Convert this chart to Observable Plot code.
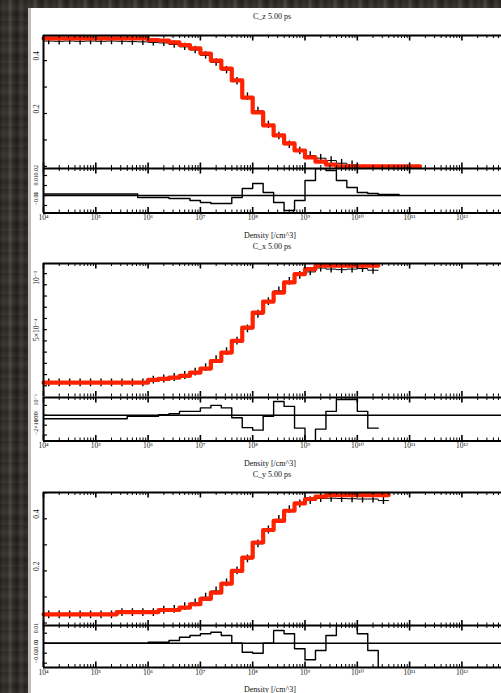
<!DOCTYPE html>
<html>
<head>
<meta charset="utf-8">
<script src="https://cdn.jsdelivr.net/npm/d3@7"></script>
<script src="https://cdn.jsdelivr.net/npm/@observablehq/plot@0.6"></script>
<style>
  html, body { margin: 0; padding: 0; background: #2a2622; }
  #page {
    position: relative; width: 501px; height: 693px; overflow: hidden;
    background:
      repeating-linear-gradient(0deg, rgba(255,255,255,0.04) 0px, rgba(0,0,0,0.08) 7px, rgba(255,255,255,0.05) 13px, rgba(0,0,0,0.06) 21px),
      repeating-linear-gradient(90deg, #26231f 0px, #34302b 4px, #2b2824 7px, #48443e 10px, #2e2b27 13px, #201e1b 17px, #3c3833 21px, #27241f 25px);
  }
  #sheet {
    position: absolute; left: 28px; top: 8px; width: 473px; height: 685px;
    background: #fff; border-left: 3px solid #bdbdbd; box-sizing: border-box;
  }
  .plot { position: absolute; left: 0; }
  .txt {
    position: absolute; font-family: "Liberation Serif", "DejaVu Serif", serif;
    font-size: 8px; color: #111; white-space: nowrap; transform: translate(-50%, -50%);
  }
</style>
</head>
<body>
<div id="page"><div id="sheet"></div></div>
<script>
// ---------- data ----------
const edgeExp = [4.0,4.2,4.4,4.6,4.8,5.0,5.2,5.4,5.6,5.8,6.0,6.2,6.4,6.6,6.8,7.0,7.2,7.4,7.6,7.8,8.0,8.2,8.4,8.6,8.8,9.0,9.2,9.4,9.6,9.8,10.0,10.2,10.4,10.6,10.8,11.0,11.2];
const majorExp = [4,5,6,7,8,9,10,11,12];
const minorMult = [2,3,4,5,6,7,8,9];
const xTickLabels = ["10⁴","10⁵","10⁶","10⁷","10⁸","10⁹","10¹⁰","10¹¹","10¹²"];
const xAxisLabel = "Density [/cm^3]";
const panelTitles = ["C_z 5.00 ps", "C_x 5.00 ps", "C_y 5.00 ps"];

// C_z
const cz_model = [0.484,0.484,0.484,0.484,0.484,0.484,0.484,0.484,0.484,0.484,0.478,0.476,0.469,0.459,0.446,0.427,0.400,0.370,0.325,0.260,0.204,0.155,0.117,0.087,0.060,0.034,0.018,0.007,0,0,0,0,0,0,0,0];
const cz_data = [0.474,0.473,0.474,0.473,0.474,0.473,0.474,0.473,0.472,0.471,0.469,0.467,0.461,0.452,0.440,0.420,0.393,0.364,0.322,0.264,0.210,0.157,0.115,0.082,0.058,0.041,0.031,0.022,0.012,0.006];
const cz_err = 0.014;
const cz_resid = [0.15,0.15,0.15,0.15,0.15,0.15,0.15,0.15,0.15,-0.2,-0.2,-0.2,-0.3,-0.3,-0.5,-0.7,-0.8,-0.8,-0.2,0.7,1.2,0.3,-0.7,-1.5,-0.5,1.5,2.7,2.5,1.5,0.8,0.3,0.2,0.1,0.1];
const cz_yTicks = [0,0.1,0.2,0.3,0.4];
const cz_yLabelValues = [0.2,0.4];
const cz_yLabels = ["0.2","0.4"];
const cz_rTicks = [-1,0,1,2];
const cz_rLabels = ["−0.01","0","0.01","0.02"];

// C_x
const cx_model = [0.128,0.128,0.128,0.128,0.128,0.128,0.128,0.128,0.128,0.128,0.152,0.161,0.172,0.188,0.217,0.253,0.321,0.396,0.500,0.619,0.753,0.851,0.931,1.021,1.096,1.140,1.170,1.170,1.170,1.170,1.170,1.170];
const cx_data = [0.126,0.126,0.126,0.126,0.126,0.126,0.126,0.126,0.126,0.126,0.150,0.160,0.174,0.192,0.222,0.262,0.333,0.404,0.498,0.607,0.738,0.850,0.946,1.031,1.084,1.115,1.150,1.140,1.135,1.140,1.145,1.130];
const cx_err = 0.035;
const cx_resid = [-0.35,-0.35,-0.35,-0.35,-0.35,-0.35,-0.35,-0.35,-0.1,-0.1,-0.1,0.05,0.15,0.4,0.4,0.75,1.0,0.75,-0.25,-1.25,-1.5,-0.1,1.4,0.9,-1.3,-2.6,-1.4,0.4,1.6,1.6,0.4,-1.3];
const cx_yTicks = [0.1,0.2,0.3,0.4,0.5,0.6,0.7,0.8,0.9,1.0,1.1];
const cx_yLabelValues = [0.5,1.0];
const cx_yLabels = ["5×10⁻⁴","10⁻³"];
const cx_rTicks = [-2,-1,0,1];
const cx_rLabels = ["−2×10⁻⁵","−10⁻⁵","0","10⁻⁵"];

// C_y
const cy_model = [0.0335,0.0335,0.0335,0.0335,0.0335,0.0335,0.0335,0.042,0.042,0.042,0.042,0.050,0.050,0.059,0.072,0.093,0.117,0.151,0.200,0.251,0.309,0.357,0.392,0.431,0.459,0.476,0.485,0.491,0.491,0.491,0.491,0.491,0.491];
const cy_data = [0.031,0.031,0.031,0.031,0.031,0.031,0.031,0.040,0.040,0.040,0.040,0.049,0.052,0.063,0.077,0.099,0.123,0.154,0.200,0.246,0.304,0.357,0.398,0.435,0.457,0.470,0.478,0.479,0.478,0.477,0.476,0.476,0.470];
const cy_err = 0.015;
const cy_resid = [0,0,0,0,0,0,0,0,0,0,0.1,0.1,0.27,0.6,0.77,0.94,1.1,0.77,0,-0.9,-1.0,0,1.27,0.94,-0.56,-1.66,-0.73,0.77,1.77,1.77,0.94,-0.73,-2.6];
const cy_yTicks = [0,0.1,0.2,0.3,0.4,0.5];
const cy_yLabelValues = [0.2,0.4];
const cy_yLabels = ["0.2","0.4"];
const cy_rTicks = [-2,-1,0,1];
const cy_rLabels = ["−0.02","−0.01","0","0.01"];

// ---------- layout ----------
const W = 501, ML = 43;
const xDomain = [1e4, Math.pow(10, 12.757)];
const majors = majorExp.map(e => Math.pow(10, e));
const minors = [];
majorExp.forEach(e => minorMult.forEach(m => { const v = m * Math.pow(10, e); if (v < xDomain[1]) minors.push(v); }));

const panels = [
  {title: panelTitles[0], T: 35, M: 168, B: 212.5, yDomain: [-0.008, 0.495], rDomain: [-1.75, 2.7],
   model: cz_model, data: cz_data, err: cz_err, resid: cz_resid, yTicks: cz_yTicks, yLV: cz_yLabelValues, yL: cz_yLabels, rTicks: cz_rTicks, rL: cz_rLabels,
   titleY: 16, labelY: 235},
  {title: panelTitles[1], T: 263, M: 396.5, B: 440, yDomain: [0, 1.19], rDomain: [-2.6, 1.8],
   model: cx_model, data: cx_data, err: cx_err, resid: cx_resid, yTicks: cx_yTicks, yLV: cx_yLabelValues, yL: cx_yLabels, rTicks: cx_rTicks, rL: cx_rLabels,
   titleY: 246, labelY: 463},
  {title: panelTitles[2], T: 491.5, M: 625, B: 667, yDomain: [-0.0115, 0.501], rDomain: [-2.43, 1.77],
   model: cy_model, data: cy_data, err: cy_err, resid: cy_resid, yTicks: cy_yTicks, yLV: cy_yLabelValues, yL: cy_yLabels, rTicks: cy_rTicks, rL: cy_rLabels,
   titleY: 474, labelY: 689}
];

function stepRows(vals) {
  const rows = vals.map((v, i) => ({x: Math.pow(10, edgeExp[i]), y: v}));
  rows.push({x: Math.pow(10, edgeExp[vals.length]), y: vals[vals.length - 1]});
  return rows;
}

const font = "Liberation Serif, DejaVu Serif, serif";
const svgStyle = {background: "transparent", overflow: "visible", fontFamily: font};
const page = document.getElementById("page");

function place(el, top) {
  el.classList.add("plot");
  el.style.top = top + "px";
  page.appendChild(el);
}

function xTickMarks(h, topLen, botLen) {
  const m = [];
  if (topLen) {
    m.push(Plot.ruleX(minors, {insetBottom: h - topLen, stroke: "#000", strokeWidth: 1}));
    m.push(Plot.ruleX(majors, {insetBottom: h - topLen - 2.5, stroke: "#000", strokeWidth: 1.6}));
  }
  if (botLen) {
    m.push(Plot.ruleX(minors, {insetTop: h - botLen, stroke: "#000", strokeWidth: 1}));
    m.push(Plot.ruleX(majors, {insetTop: h - botLen - 2.5, stroke: "#000", strokeWidth: 1.6}));
  }
  return m;
}

panels.forEach(p => {
  const h = p.M - p.T;
  const pts = p.data.map((d, i) => ({x: Math.pow(10, edgeExp[i] + 0.1), lo: d - p.err, hi: d + p.err}));
  const main = Plot.plot({
    width: W, height: h + 6, marginTop: 3, marginBottom: 3, marginLeft: ML, marginRight: 0,
    style: svgStyle,
    x: {type: "log", domain: xDomain, axis: null},
    y: {domain: p.yDomain, axis: null},
    marks: [
      Plot.line(stepRows(p.data), {x: "x", y: "y", curve: "step-after", stroke: "#000", strokeWidth: 1, clip: true}),
      Plot.ruleX(pts, {x: "x", y1: "lo", y2: "hi", stroke: "#000", strokeWidth: 1.4, clip: true}),
      Plot.line(stepRows(p.model), {x: "x", y: "y", curve: "step-after", stroke: "#ff2200", strokeWidth: 4.2}),
      ...xTickMarks(h, 3, 3),
      Plot.ruleY(p.yTicks, {insetRight: (W - ML) - 4, stroke: "#000", strokeWidth: 1.2}),
      Plot.text(p.yLV, {y: d => d, frameAnchor: "left", dx: -7, rotate: -90, text: (d, i) => p.yL[i], fontSize: 7.5, fill: "#111"}),
      Plot.ruleY([p.yDomain[1]], {stroke: "#000", strokeWidth: 2}),
      Plot.ruleX([xDomain[0]], {stroke: "#000", strokeWidth: 2})
    ]
  });
  place(main, p.T - 3);

  const rh = p.B - p.M;
  const res = Plot.plot({
    width: W, height: rh + 3 + 18, marginTop: 3, marginBottom: 18, marginLeft: ML, marginRight: 0,
    style: svgStyle,
    x: {type: "log", domain: xDomain, axis: null},
    y: {domain: p.rDomain, axis: null},
    marks: [
      Plot.ruleY([0], {stroke: "#000", strokeWidth: 1.4}),
      Plot.line(stepRows(p.resid), {x: "x", y: "y", curve: "step-after", stroke: "#000", strokeWidth: 1.4, clip: true}),
      ...xTickMarks(rh, 3, 3),
      Plot.ruleY(p.rTicks, {insetRight: (W - ML) - 4, stroke: "#000", strokeWidth: 1.2}),
      Plot.text(p.rTicks, {y: d => d, frameAnchor: "left", dx: -7, rotate: -90, text: (d, i) => p.rL[i], fontSize: 6, fill: "#111"}),
      Plot.text(majors, {x: d => d, frameAnchor: "bottom", dy: 7, text: (d, i) => xTickLabels[i], fontSize: 7.5, fill: "#222"}),
      Plot.ruleY([p.rDomain[1]], {stroke: "#000", strokeWidth: 2}),
      Plot.ruleY([p.rDomain[0]], {stroke: "#000", strokeWidth: 2}),
      Plot.ruleX([xDomain[0]], {stroke: "#000", strokeWidth: 2})
    ]
  });
  place(res, p.M - 3);

  const t = document.createElement("div");
  t.className = "txt"; t.textContent = p.title;
  t.style.left = "272px"; t.style.top = p.titleY + "px";
  page.appendChild(t);
  const l = document.createElement("div");
  l.className = "txt"; l.textContent = xAxisLabel;
  l.style.left = "270px"; l.style.top = p.labelY + "px";
  page.appendChild(l);
});
</script>
</body>
</html>
